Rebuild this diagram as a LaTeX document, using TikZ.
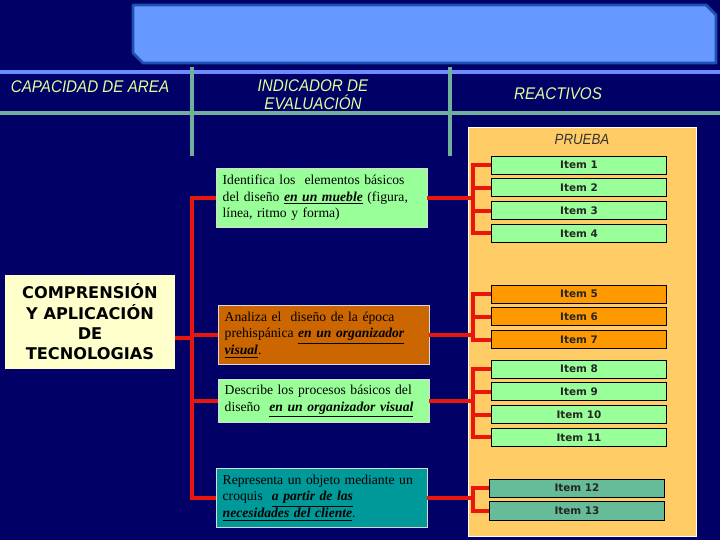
\documentclass[tikz,border=0pt]{standalone}
\usepackage{fontspec}
\setmainfont{Liberation Serif}
\setsansfont{DejaVu Sans}
\newfontfamily\headfont[FakeStretch=0.9]{Liberation Sans}
\usepackage{xcolor}
\usepackage{tikz}
\usetikzlibrary{positioning,calc}
\newcommand{\keyph}[1]{\underline{\textbf{\textit{#1}}}}
\definecolor{bgc}{HTML}{000066}
\definecolor{bannerc}{HTML}{6699FF}
\definecolor{bannerglow}{HTML}{1F4FB0}
\definecolor{rulec}{HTML}{6F8CFF}
\definecolor{gridc}{HTML}{6FAF9C}
\definecolor{headc}{HTML}{E0FF99}
\definecolor{capc}{HTML}{FFFFCC}
\definecolor{indgreen}{HTML}{99FF99}
\definecolor{indbrown}{HTML}{CC6600}
\definecolor{indteal}{HTML}{009999}
\definecolor{panelc}{HTML}{FFCC66}
\definecolor{itemgreen}{HTML}{99FF99}
\definecolor{itemorange}{HTML}{FF9900}
\definecolor{itemteal}{HTML}{66BB99}
\definecolor{linkc}{HTML}{E8160C}
\tikzset{
  banner/.style={fill=bannerc, draw=bannerglow, line width=2pt, line join=round},
  ruleline/.style={line width=2.6pt},
  head/.style={font=\headfont\itshape\fontsize{12}{13}\selectfont, text=headc,
    align=center, inner sep=1pt},
  capbox/.style={fill=capc, font=\sffamily\bfseries\fontsize{11.5}{14.5}\selectfont,
    align=center, minimum width=4.25cm, minimum height=2.33cm},
  indbox/.style={draw=white!85!black, thin, anchor=north west, align=left,
    text width=4.95cm, inner xsep=0.16cm, minimum height=1.47cm,
    font=\fontsize{9.7}{12}\selectfont},
  item/.style={draw=black, thin, minimum width=4.375cm, minimum height=0.45cm,
    inner sep=0pt, text=black!85, font=\sffamily\bfseries\fontsize{7.4}{8}\selectfont},
  link/.style={draw=linkc, line width=2.8pt}}

\begin{document}
\begin{tikzpicture}[x=0.025cm, y=-0.025cm]
  % ---- background, title banner and header grid
  \fill[bgc] (0,0) rectangle (720,540);
  \useasboundingbox (0,0) rectangle (720,540);
  \draw[banner] (133,5) -- (706,5) -- (716,15) -- (716,63) -- (143,63)
    -- (133,53) -- cycle;
  \draw[ruleline, rulec] (0,72) -- (720,72);
  \draw[ruleline, gridc] (0,113) -- (720,113);
  \draw[ruleline, gridc] (192,67) -- (192,156);
  \draw[ruleline, gridc] (450,67) -- (450,156);
  \node[head] (capHead) at (90,87) {CAPACIDAD DE AREA};
  \node[head] (indHead) at (313,95) {INDICADOR DE\\EVALUACIÓN};
  \node[head] (reaHead) at (558,94) {REACTIVOS};
  % ---- capacity and indicators
  \node[capbox] (cap) at (90,322) {COMPRENSIÓN\\Y APLICACIÓN\\DE\\TECNOLOGIAS};
  \node[indbox, fill=indgreen] (ind1) at (216,168)
    {Identifica los \ elementos básicos\\del diseño \keyph{en un mueble} (figura,\\línea, ritmo y forma)};
  \node[indbox, fill=indbrown] (ind2) at (218,305)
    {Analiza el \ diseño de la época\\prehispánica \keyph{en un organizador}\\\keyph{visual}.};
  \node[indbox, fill=indgreen, minimum height=1.075cm] (ind3) at (218,379)
    {Describe los procesos básicos del\\diseño \ \keyph{en un organizador visual}};
  \node[indbox, fill=indteal] (ind4) at (216,468)
    {Representa un objeto mediante un\\croquis \ \keyph{a partir de las}\\\keyph{necesidades del cliente}.};
  % ---- the test panel with its items
  \node[draw=white, fill=panelc, anchor=north west, minimum width=5.7cm,
    minimum height=10.225cm] (panel) at (468,127) {};
  \node[head, text=black!80, font=\headfont\itshape\fontsize{10.5}{12}\selectfont]
    (pruebaHead) at (582,139) {PRUEBA};
  \node[item, fill=itemgreen] (item1) at (579,165) {Item 1};
  \node[item, fill=itemgreen, below=0.105cm of item1] (item2) {Item 2};
  \node[item, fill=itemgreen, below=0.105cm of item2] (item3) {Item 3};
  \node[item, fill=itemgreen, below=0.105cm of item3] (item4) {Item 4};
  \node[item, fill=itemorange] (item5) at (579,294) {Item 5};
  \node[item, fill=itemorange, below=0.105cm of item5] (item6) {Item 6};
  \node[item, fill=itemorange, below=0.105cm of item6] (item7) {Item 7};
  \node[item, fill=itemgreen] (item8) at (579,369) {Item 8};
  \node[item, fill=itemgreen, below=0.105cm of item8] (item9) {Item 9};
  \node[item, fill=itemgreen, below=0.105cm of item9] (item10) {Item 10};
  \node[item, fill=itemgreen, below=0.105cm of item10] (item11) {Item 11};
  \node[item, fill=itemteal] (item12) at (577,488) {Item 12};
  \node[item, fill=itemteal, below=0.105cm of item12] (item13) {Item 13};
  % ---- red tree on the left, brackets on the right
  \coordinate (trunk) at (192,0);
  \coordinate (rail) at (473,0);
  \coordinate (capout) at ([yshift=-0.4cm]cap.east);
  \draw[link] (ind1.west) -- (ind1.west -| trunk) -- (ind4.west -| trunk) -- (ind4.west);
  \draw[link] (ind2.west) -- (ind2.west -| trunk);
  \draw[link] (ind3.west) -- (ind3.west -| trunk);
  \draw[link] (capout) -- (capout -| trunk);
  \draw[link] (item1.west) -- (item1.west -| rail) -- (item4.west -| rail) -- (item4.west);
  \draw[link] (item2.west) -- (item2.west -| rail);
  \draw[link] (item3.west) -- (item3.west -| rail);
  \draw[link] (item5.west) -- (item5.west -| rail) -- (item7.west -| rail) -- (item7.west);
  \draw[link] (item6.west) -- (item6.west -| rail);
  \draw[link] (item8.west) -- (item8.west -| rail) -- (item11.west -| rail) -- (item11.west);
  \draw[link] (item9.west) -- (item9.west -| rail);
  \draw[link] (item10.west) -- (item10.west -| rail);
  \draw[link] (item12.west) -- (item12.west -| rail) -- (item13.west -| rail) -- (item13.west);
  \draw[link] (ind1.east) -- (ind1.east -| rail);
  \draw[link] (ind2.east) -- (ind2.east -| rail);
  \draw[link] (ind3.east) -- (ind3.east -| rail);
  \draw[link] (ind4.east) -- (ind4.east -| rail);
\end{tikzpicture}
\end{document}
